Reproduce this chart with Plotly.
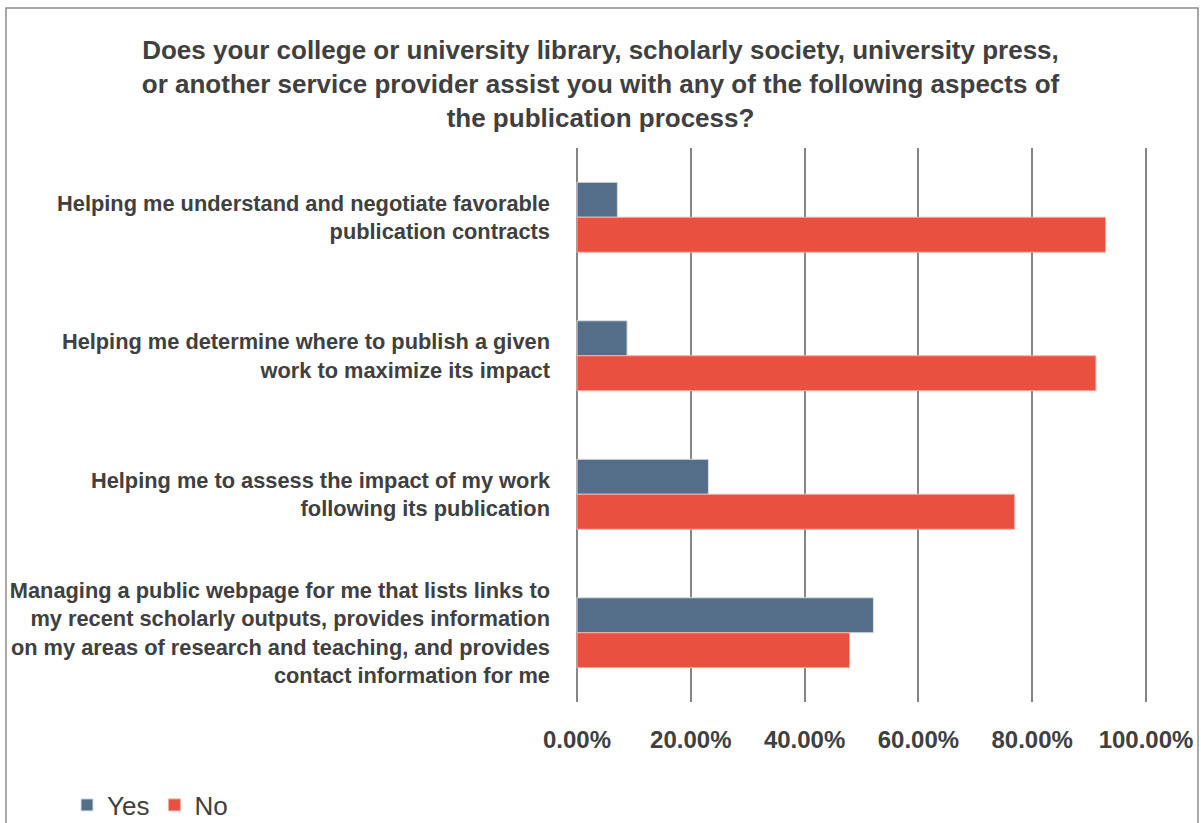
import plotly.graph_objects as go

categories = [
    "Helping me understand and negotiate favorable<br>publication contracts",
    "Helping me determine where to publish a given<br>work to maximize its impact",
    "Helping me to assess the impact of my work<br>following its publication",
    "Managing a public webpage for me that lists links to<br>my recent scholarly outputs, provides information<br>on my areas of research and teaching, and provides<br>contact information for me",
]
yes_values = [0.071, 0.088, 0.231, 0.521]
no_values = [0.929, 0.912, 0.769, 0.479]
x_ticks = [0, 0.2, 0.4, 0.6, 0.8, 1.0]
x_tick_labels = ["0.00%", "20.00%", "40.00%", "60.00%", "80.00%", "100.00%"]

FONT = "Liberation Sans, Arial, sans-serif"
TEXT = "#404040"

fig = go.Figure()
fig.add_trace(go.Bar(name="Yes", y=categories, x=yes_values, orientation="h",
                     marker=dict(color="#546E8A", line=dict(color="#d8dde4", width=1))))
fig.add_trace(go.Bar(name="No", y=categories, x=no_values, orientation="h",
                     marker=dict(color="#E9503F", line=dict(color="#f0b0a8", width=1))))

L, R, T, B = 575, 53, 148, 121
W, H = 1201, 823
pw = W - L - R
ph = H - T - B
XMIN, XMAX = -0.0035, 1.0035

def px_x(px):
    return (px - L) / pw

def px_y(py):
    return (H - B - py) / ph

fig.update_layout(
    width=W, height=H,
    margin=dict(l=L, r=R, t=T, b=B, autoexpand=False),
    paper_bgcolor="white", plot_bgcolor="white",
    barmode="group", bargap=0.495, bargroupgap=0,
    title=dict(
        text="<b>Does your college or university library, scholarly society, university press,<br>or another service provider assist you with any of the following aspects of<br>the publication process?</b>",
        x=0.5, xref="container", xanchor="center",
        y=1 - 59 / H, yref="container", yanchor="top",
        font=dict(family=FONT, size=26, color=TEXT),
    ),
    font=dict(family=FONT, color=TEXT),
    xaxis=dict(
        range=[XMIN, XMAX], tickvals=x_ticks,
        ticktext=[f"<b>{t}</b>" for t in x_tick_labels],
        showgrid=True, gridcolor="#858585", gridwidth=2,
        zeroline=False, showline=False, automargin=False,
        tickfont=dict(family=FONT, size=24, color=TEXT),
        ticklabelstandoff=21, fixedrange=True,
    ),
    yaxis=dict(
        autorange="reversed", showgrid=False, zeroline=False, showline=False,
        automargin=False,
        tickvals=categories, ticktext=[f"<b>{c}</b>" for c in categories],
        tickfont=dict(family=FONT, size=21.8, color=TEXT),
        ticklabelstandoff=24,
    ),
    legend=dict(
        orientation="h", x=px_x(67), xanchor="left", y=px_y(805), yanchor="middle",
        font=dict(family=FONT, size=26, color=TEXT),
        traceorder="normal", itemwidth=30, tracegroupgap=0,
    ),
    showlegend=True,
)

# outer chart border
fig.add_shape(type="rect", xref="paper", yref="paper",
              x0=px_x(6), x1=px_x(1198), y0=px_y(840), y1=px_y(8),
              line=dict(color="#8c8c8c", width=1.5), fillcolor="rgba(0,0,0,0)", layer="below")

fig.write_html("out.html", config={"displayModeBar": False},
               post_script="document.body.style.margin='0';")
